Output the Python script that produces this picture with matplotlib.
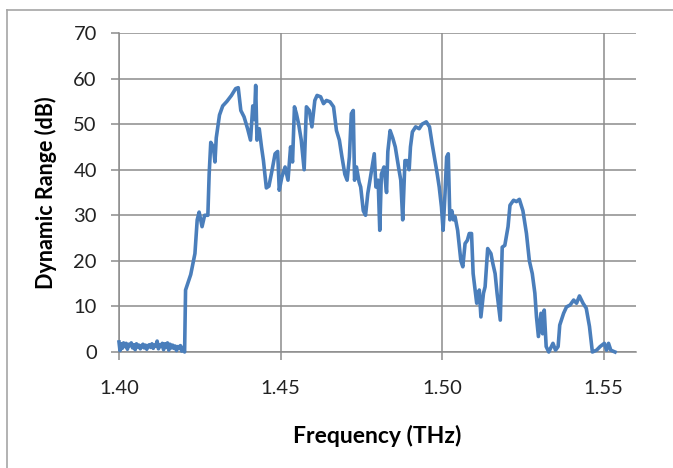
import matplotlib
matplotlib.use("Agg")
import matplotlib.pyplot as plt
from matplotlib.lines import Line2D

# ---- data ----
freq_noise = [1.4000, 1.4003, 1.4006, 1.4010, 1.4014, 1.4018, 1.4022, 1.4026, 1.4030, 1.4034,
              1.4038, 1.4042, 1.4046, 1.4050, 1.4054, 1.4058, 1.4062, 1.4066, 1.4070, 1.4074,
              1.4078, 1.4082, 1.4086, 1.4090, 1.4094, 1.4098, 1.4102, 1.4106, 1.4110, 1.4114,
              1.4118, 1.4122, 1.4126, 1.4130, 1.4134, 1.4138, 1.4142, 1.4146, 1.4150, 1.4154,
              1.4158, 1.4162, 1.4166, 1.4170, 1.4174, 1.4178, 1.4182, 1.4186, 1.4190, 1.4194,
              1.4198, 1.4203]
db_noise = [2.2, 0.3, 1.8, 0.8, 2.0, 1.2, 1.9, 0.6, 1.7, 1.4, 2.0, 0.9, 1.6, 0.5, 1.8, 1.1,
            1.5, 0.7, 1.3, 1.7, 0.9, 1.5, 0.6, 1.4, 1.6, 1.0, 1.8, 0.8, 1.5, 1.3, 2.4, 0.7,
            1.6, 1.2, 1.9, 0.5, 1.8, 1.1, 2.0, 0.4, 1.7, 0.9, 1.5, 0.8, 1.3, 0.3, 1.2, 0.9,
            1.4, 0.2, 1.0, 0.0]

freq_main = [1.4206, 1.4222, 1.4235, 1.4242, 1.4248, 1.4257, 1.4265, 1.4275, 1.4279, 1.4284,
             1.4292, 1.4297, 1.4301, 1.4311, 1.4321, 1.4334, 1.4348, 1.4361, 1.4369, 1.4377,
             1.4387, 1.4398, 1.4407, 1.4414, 1.4419, 1.4423, 1.4427, 1.4434, 1.4441, 1.4447,
             1.4456, 1.4464, 1.4474, 1.4483, 1.4491, 1.4496, 1.4504, 1.4514, 1.4523, 1.4531,
             1.4537, 1.4543, 1.4549, 1.4556, 1.4564, 1.4573, 1.4580, 1.4589, 1.4597, 1.4606,
             1.4613, 1.4624, 1.4633, 1.4642, 1.4653, 1.4664, 1.4673, 1.4682, 1.4690, 1.4699,
             1.4706, 1.4713, 1.4719, 1.4725, 1.4729, 1.4735, 1.4743, 1.4748, 1.4756, 1.4763,
             1.4770, 1.4775, 1.4783, 1.4790, 1.4795, 1.4802, 1.4807, 1.4812, 1.4820, 1.4828,
             1.4832, 1.4839, 1.4847, 1.4855, 1.4865, 1.4872, 1.4878, 1.4885, 1.4892, 1.4898,
             1.4902, 1.4908, 1.4918, 1.4929, 1.4938, 1.4951, 1.4961, 1.4969, 1.4978, 1.4985,
             1.4991, 1.4998, 1.5003, 1.5009, 1.5014, 1.5019, 1.5024, 1.5030, 1.5035, 1.5040,
             1.5048, 1.5058, 1.5064, 1.5071, 1.5078, 1.5084, 1.5091, 1.5096, 1.5101, 1.5107,
             1.5115, 1.5120, 1.5128, 1.5133, 1.5141, 1.5151, 1.5157, 1.5164, 1.5170, 1.5180,
             1.5186, 1.5194, 1.5204, 1.5210, 1.5221, 1.5230, 1.5239, 1.5250, 1.5261, 1.5270,
             1.5279, 1.5287, 1.5292, 1.5298, 1.5306, 1.5311, 1.5316, 1.5322, 1.5330, 1.5343,
             1.5351, 1.5359, 1.5364, 1.5376, 1.5385, 1.5396, 1.5407, 1.5416, 1.5425, 1.5436,
             1.5446, 1.5456, 1.5465, 1.5478, 1.5489, 1.5502, 1.5509, 1.5515, 1.5522, 1.5535]
db_main = [13.6, 17.0, 21.6, 29.0, 30.7, 27.5, 30.0, 30.0, 39.0, 46.0,
           45.0, 41.7, 47.0, 52.0, 54.0, 55.0, 56.3, 57.8, 58.0, 53.0,
           51.6, 49.0, 46.5, 54.0, 51.0, 58.5, 46.5, 49.0, 45.0, 42.0,
           36.0, 36.4, 40.0, 43.5, 44.0, 35.5, 38.4, 40.6, 37.7, 45.0,
           41.7, 53.8, 52.3, 50.0, 46.5, 40.0, 53.8, 53.0, 49.4, 55.2,
           56.3, 56.0, 54.5, 55.2, 54.9, 53.8, 48.6, 46.5, 42.8, 39.0,
           37.7, 42.8, 52.3, 53.0, 37.7, 40.6, 37.3, 36.2, 31.0, 30.0,
           34.8, 37.0, 40.6, 43.5, 36.2, 37.7, 26.7, 39.0, 40.6, 35.0,
           44.0, 48.6, 47.0, 45.0, 40.6, 37.7, 29.0, 42.0, 42.0, 40.0,
           45.0, 48.3, 49.4, 49.0, 50.0, 50.5, 49.4, 45.7, 42.0, 39.0,
           36.2, 31.8, 26.7, 34.8, 42.8, 43.5, 29.0, 31.0, 29.0, 29.7,
           26.7, 20.0, 18.7, 23.8, 24.5, 26.0, 26.0, 17.2, 14.3, 10.7,
           13.6, 7.7, 12.9, 14.3, 22.7, 21.6, 19.4, 17.2, 12.9, 7.0,
           23.0, 23.4, 27.5, 32.2, 33.3, 33.0, 33.5, 31.0, 26.0, 20.0,
           17.2, 12.9, 7.7, 3.4, 8.5, 4.0, 9.2, 1.2, 0.0, 1.9,
           0.4, 1.2, 5.9, 8.5, 9.9, 10.3, 11.4, 10.7, 12.3, 10.7,
           9.6, 5.6, 0.0, 0.4, 1.2, 1.9, 0.4, 1.9, 0.4, 0.0]

freq = freq_noise + freq_main
db = db_noise + db_main

x_ticks = [1.40, 1.45, 1.50, 1.55]
x_tick_labels = ["1.40", "1.45", "1.50", "1.55"]
y_ticks = [0, 10, 20, 30, 40, 50, 60, 70]

plt.rcParams['font.family'] = ['Lato', 'DejaVu Sans']

W, H = 673, 468
fig = plt.figure(figsize=(W / 100, H / 100), dpi=100)
ax = fig.add_axes([119 / W, 1 - 352 / H, (636 - 119) / W, (352 - 33) / H])

grid_c = '#8c8c8c'
ax.plot(freq, db, color='#4a7ebb', linewidth=2.6, solid_joinstyle='round', zorder=3, clip_on=False)

ax.set_xlim(1.40, 1.56)
ax.set_ylim(0, 70)
ax.set_xticks(x_ticks)
ax.set_xticklabels(x_tick_labels)
ax.set_yticks(y_ticks)
ax.grid(True, color=grid_c, linewidth=1.1, zorder=0)
ax.set_axisbelow(True)
for side in ['top', 'right']:
    ax.spines[side].set_visible(False)
ax.spines['left'].set_color(grid_c)
ax.spines['bottom'].set_color(grid_c)
ax.spines['left'].set_linewidth(1.1)
ax.spines['bottom'].set_linewidth(1.1)
ax.tick_params(axis='both', direction='out', length=6, width=1.1, color=grid_c,
               labelsize=14.5, labelcolor='#222222')
ax.tick_params(axis='x', pad=14)
ax.tick_params(axis='y', pad=10)

ax.set_xlabel('Frequency (THz)', fontsize=16.5, fontweight='bold', labelpad=20)
ax.set_ylabel('Dynamic Range (dB)', fontsize=15.5, fontweight='bold', labelpad=12)

# chart border (top and left)
fig.add_artist(Line2D([7 / W, 7 / W], [0, 1 - 10 / H], transform=fig.transFigure,
                      color='#a6a6a6', linewidth=1.2))
fig.add_artist(Line2D([7 / W, 1], [1 - 10 / H, 1 - 10 / H], transform=fig.transFigure,
                      color='#a6a6a6', linewidth=1.2))

fig.savefig('out.png', dpi=100)
